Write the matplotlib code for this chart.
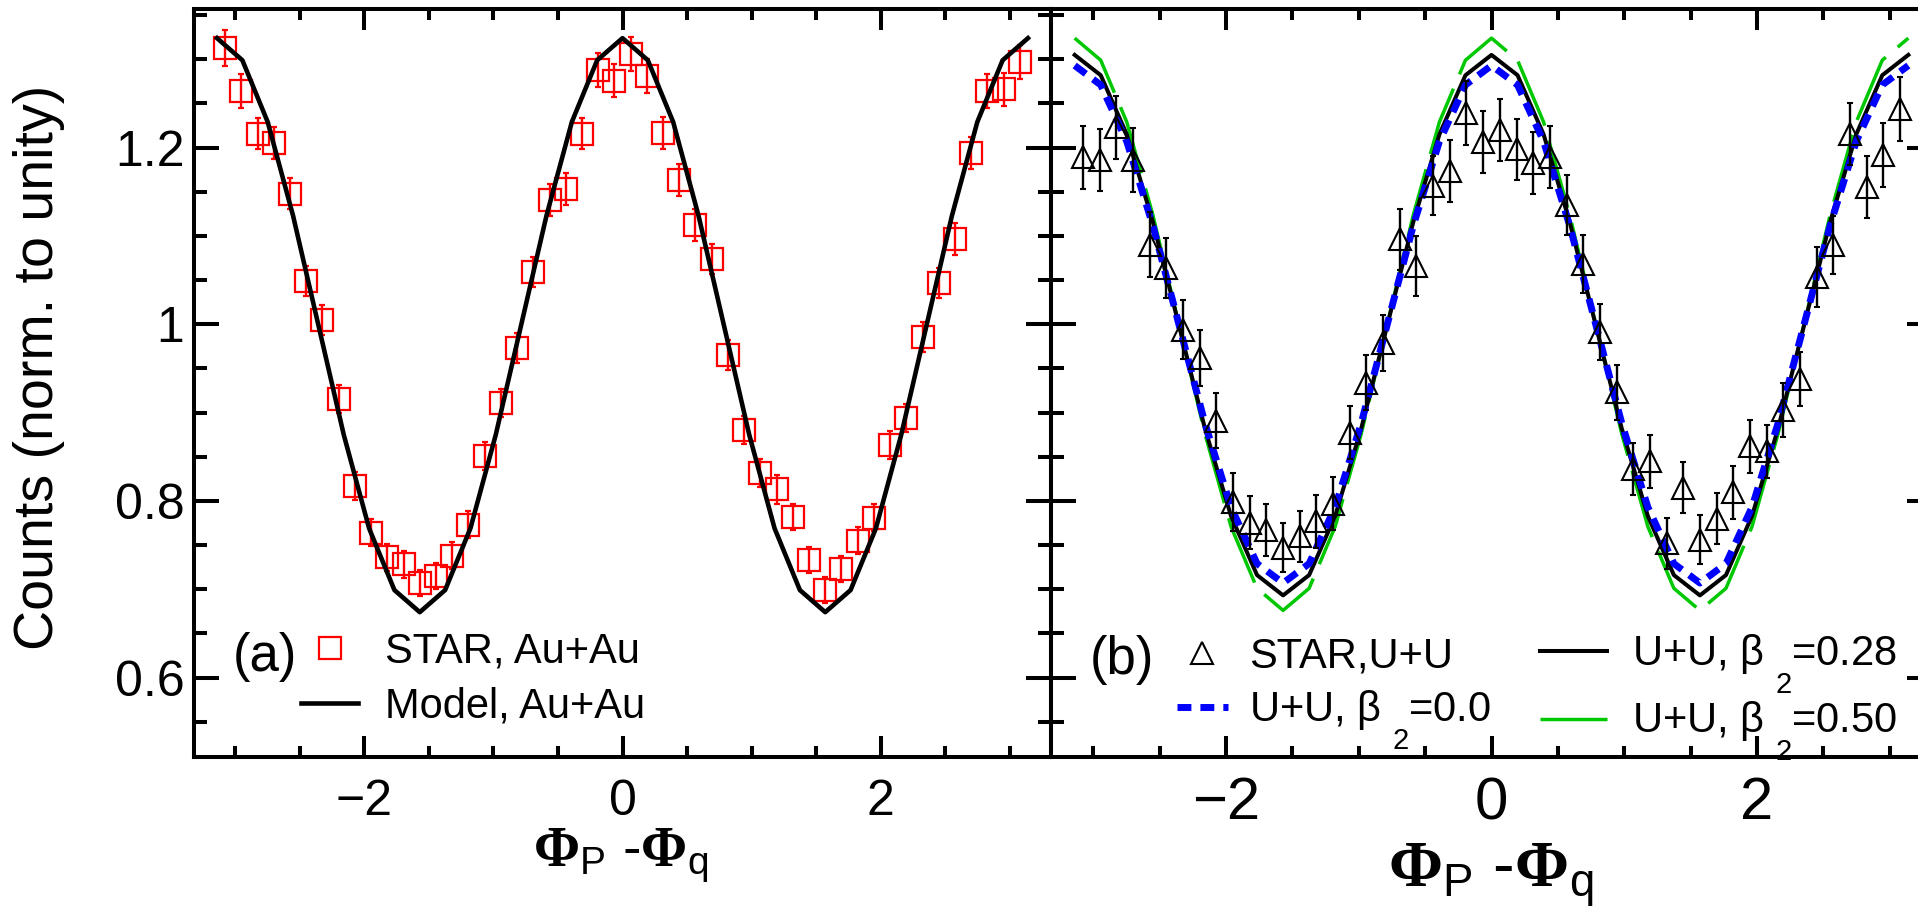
import numpy as np
import matplotlib
matplotlib.use('Agg')
import matplotlib.pyplot as plt
from matplotlib.ticker import MultipleLocator, FixedLocator, FixedFormatter
from matplotlib.lines import Line2D

plt.rcParams['font.family'] = ['Liberation Sans', 'DejaVu Sans']
plt.rcParams['mathtext.fontset'] = 'custom'
plt.rcParams['mathtext.rm'] = 'Liberation Sans'
plt.rcParams['mathtext.it'] = 'Liberation Sans:italic'
plt.rcParams['mathtext.bf'] = 'Liberation Serif:bold'
plt.rcParams['mathtext.sf'] = 'Liberation Sans'
plt.rcParams['mathtext.default'] = 'regular'

# ---------------- data ----------------
# bin centres of the measured distributions (50 bins over [-pi, pi])
phi_data = np.linspace(-np.pi, np.pi, 51)[:-1] + np.pi / 50
# model grid (33 nodes over [-pi, pi])
phi_model = np.linspace(-np.pi, np.pi, 33)

star_auau = [1.313, 1.264, 1.216, 1.205, 1.148, 1.049, 1.005, 0.915, 0.817, 0.764,
             0.736, 0.728, 0.707, 0.715, 0.738, 0.773, 0.851, 0.911, 0.973, 1.059,
             1.141, 1.153, 1.216, 1.288, 1.276, 1.306, 1.281, 1.217, 1.163, 1.112,
             1.074, 0.965, 0.880, 0.832, 0.813, 0.782, 0.733, 0.699, 0.723, 0.755,
             0.781, 0.863, 0.894, 0.986, 1.047, 1.097, 1.194, 1.264, 1.266, 1.297]
star_auau_err = [0.020, 0.019, 0.018, 0.018, 0.018, 0.017, 0.017, 0.016, 0.016, 0.015,
                 0.015, 0.015, 0.015, 0.015, 0.015, 0.015, 0.016, 0.016, 0.017, 0.017,
                 0.018, 0.018, 0.018, 0.019, 0.019, 0.019, 0.019, 0.018, 0.018, 0.018,
                 0.017, 0.017, 0.016, 0.016, 0.016, 0.015, 0.015, 0.015, 0.015, 0.015,
                 0.015, 0.016, 0.016, 0.017, 0.017, 0.018, 0.018, 0.019, 0.019, 0.019]

model_auau = [1.324, 1.299, 1.229, 1.123, 0.999, 0.875, 0.769, 0.699, 0.674,
              0.699, 0.769, 0.875, 0.999, 1.123, 1.229, 1.299, 1.324,
              1.299, 1.229, 1.123, 0.999, 0.875, 0.769, 0.699, 0.674,
              0.699, 0.769, 0.875, 0.999, 1.123, 1.229, 1.299, 1.324]

star_uu = [1.189, 1.186, 1.223, 1.186, 1.090, 1.064, 0.994, 0.962, 0.891, 0.799,
           0.775, 0.767, 0.747, 0.760, 0.777, 0.797, 0.877, 0.934, 0.979, 1.096,
           1.066, 1.157, 1.174, 1.239, 1.206, 1.220, 1.198, 1.183, 1.189, 1.135,
           1.068, 0.991, 0.923, 0.836, 0.845, 0.752, 0.815, 0.756, 0.780, 0.810,
           0.862, 0.856, 0.903, 0.938, 1.053, 1.090, 1.215, 1.155, 1.192, 1.244]
star_uu_err = [0.036, 0.035, 0.036, 0.036, 0.037, 0.034, 0.033, 0.032, 0.031, 0.033,
               0.030, 0.029, 0.028, 0.029, 0.030, 0.030, 0.030, 0.031, 0.032, 0.034,
               0.034, 0.033, 0.035, 0.036, 0.035, 0.035, 0.035, 0.035, 0.035, 0.034,
               0.033, 0.032, 0.031, 0.029, 0.030, 0.029, 0.029, 0.028, 0.029, 0.030,
               0.030, 0.030, 0.031, 0.031, 0.034, 0.033, 0.035, 0.035, 0.036, 0.036]

uu_b000 = [1.293, 1.271, 1.207, 1.112, 1.000, 0.888, 0.793, 0.729, 0.707,
           0.729, 0.793, 0.888, 1.000, 1.112, 1.207, 1.271, 1.293,
           1.271, 1.207, 1.112, 1.000, 0.888, 0.793, 0.729, 0.707,
           0.729, 0.793, 0.888, 1.000, 1.112, 1.207, 1.271, 1.293]
uu_b028 = [1.305, 1.282, 1.215, 1.116, 0.999, 0.882, 0.783, 0.716, 0.693,
           0.716, 0.783, 0.882, 0.999, 1.116, 1.215, 1.282, 1.305,
           1.282, 1.215, 1.116, 0.999, 0.882, 0.783, 0.716, 0.693,
           0.716, 0.783, 0.882, 0.999, 1.116, 1.215, 1.282, 1.305]
uu_b050 = [1.324, 1.299, 1.229, 1.124, 1.000, 0.876, 0.771, 0.701, 0.676,
           0.701, 0.771, 0.876, 1.000, 1.124, 1.229, 1.299, 1.324,
           1.299, 1.229, 1.124, 1.000, 0.876, 0.771, 0.701, 0.676,
           0.701, 0.771, 0.876, 1.000, 1.124, 1.229, 1.299, 1.324]

xticks = [-2, 0, 2]
xtick_labels = ['\u22122', '0', '2']
yticks = [0.6, 0.8, 1.0, 1.2]
ytick_labels = ['0.6', '0.8', '1', '1.2']

RED = '#FF0000'
BLUE = '#0000FF'
GREEN = '#00C800'

# ---------------- layout ----------------
W, H = 1918, 911
L, M, R, T, B = 194, 1051, 1932, 9, 757
fig = plt.figure(figsize=(W / 100, H / 100), dpi=100)
axA = fig.add_axes([L / W, 1 - B / H, (M - L) / W, (B - T) / H])
axB = fig.add_axes([M / W, 1 - B / H, (R - M) / W, (B - T) / H])

for ax in (axA, axB):
    ax.set_xlim(-3.32, 3.32)
    ax.set_ylim(0.51, 1.357)
    ax.xaxis.set_major_locator(FixedLocator(xticks))
    ax.xaxis.set_minor_locator(MultipleLocator(0.5))
    ax.yaxis.set_major_locator(FixedLocator(yticks))
    ax.yaxis.set_minor_locator(MultipleLocator(0.05))
    ax.tick_params(which='both', direction='in', top=True, right=True,
                   width=2.9, color='black')
    ax.tick_params(axis='x', which='major', length=15)
    ax.tick_params(axis='x', which='minor', length=8)
    ax.tick_params(axis='y', which='major', length=18)
    ax.tick_params(axis='y', which='minor', length=9.5)
    for s in ax.spines.values():
        s.set_linewidth(2.9)
    ax.xaxis.set_major_formatter(FixedFormatter(xtick_labels))

axA.yaxis.set_major_formatter(FixedFormatter(ytick_labels))
axA.tick_params(axis='x', labelsize=36, pad=16)
axA.tick_params(axis='y', labelsize=36, pad=7)
axB.tick_params(axis='x', labelsize=43, pad=14)
axB.tick_params(axis='y', labelleft=False)

# ---------------- panel (a) ----------------
axA.errorbar(phi_data, star_auau, yerr=star_auau_err, fmt='s', ms=16.5,
             mfc='none', mec=RED, mew=1.6, ecolor=RED, elinewidth=1.7,
             capsize=2.0, capthick=2.0, zorder=3)
axA.plot(phi_model, model_auau, color='black', lw=3.3, zorder=4)

hA1 = Line2D([], [], ls='none', marker='s', ms=16.5, mfc='none', mec=RED, mew=1.6)
hA2 = Line2D([], [], color='black', lw=3.3)
axA.legend([hA1, hA2], ['STAR, Au+Au', 'Model, Au+Au'], loc='center left',
           bbox_to_anchor=(301 / W, 1 - 679 / H), bbox_transform=fig.transFigure,
           frameon=False, fontsize=30, handlelength=1.37, handletextpad=0.65,
           labelspacing=0.35, borderpad=0, borderaxespad=0)
fig.text(233 / W, 1 - 657 / H, '(a)', fontsize=38, ha='left', va='center')

# ---------------- panel (b) ----------------
axB.plot(phi_model, uu_b050, color=GREEN, lw=2.5, ls=(0, (20, 4.5)), zorder=2)
axB.plot(phi_model, uu_b028, color='black', lw=2.9, zorder=3)
axB.plot(phi_model, uu_b000, color=BLUE, lw=5, ls=(0, (2.0, 1.3)), zorder=4)
axB.errorbar(phi_data, star_uu, yerr=star_uu_err, fmt='^', ms=16,
             mfc='none', mec='black', mew=1.5, ecolor='black', elinewidth=1.7,
             capsize=2.5, capthick=1.7, zorder=5)

hB1 = Line2D([], [], ls='none', marker='^', ms=16, mfc='none', mec='black', mew=1.5)
hB2 = Line2D([], [], color=BLUE, lw=5, ls=(0, (2.0, 1.3)))
hB3 = Line2D([], [], color='black', lw=2.9)
hB4 = Line2D([], [], color=GREEN, lw=2.5, ls=(0, (20, 4.5)))
legB1 = axB.legend([hB1, hB2], ['STAR,U+U', 'U+U, \u03b2 $\\underset{2}{\\ }$=0.0'],
                   loc='center left', bbox_to_anchor=(1177 / W, 1 - 694 / H),
                   bbox_transform=fig.transFigure, frameon=False, fontsize=30,
                   handlelength=1.22, handletextpad=0.5, labelspacing=0.3,
                   borderpad=0, borderaxespad=0)
axB.add_artist(legB1)
axB.legend([hB3, hB4], ['U+U, \u03b2 $\\underset{2}{\\ }$=0.28',
                        'U+U, \u03b2 $\\underset{2}{\\ }$=0.50'],
           loc='center left', bbox_to_anchor=(1540 / W, 1 - 698 / H),
           bbox_transform=fig.transFigure, frameon=False, fontsize=30,
           handlelength=1.6, handletextpad=0.6, labelspacing=0.11,
           borderpad=0, borderaxespad=0)
fig.text(1090 / W, 1 - 660 / H, '(b)', fontsize=38, ha='left', va='center')

# ---------------- axis titles ----------------
xlab = r'$\mathbf{\Phi}_{\mathrm{P}}$ -$\mathbf{\Phi}_{\mathrm{q}}$'
fig.text(621 / W, 1 - 856 / H, xlab, fontsize=40, ha='center', va='center')
fig.text(1491 / W, 1 - 876 / H, xlab, fontsize=47, ha='center', va='center')
fig.text(39 / W, 1 - 367 / H, 'Counts (norm. to unity)', rotation=90,
         fontsize=40, ha='center', va='center')

fig.savefig('out.png', dpi=100)
